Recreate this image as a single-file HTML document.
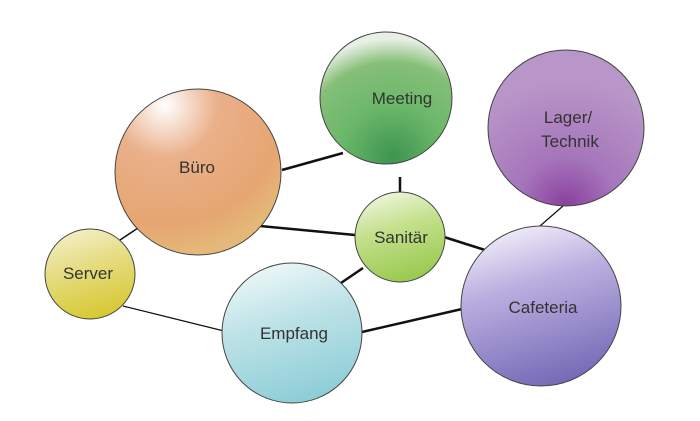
<!DOCTYPE html>
<html><head><meta charset="utf-8"><style>
html,body{margin:0;padding:0;background:#fff;}
svg{display:block;}
text{font-family:"Liberation Sans","DejaVu Sans",sans-serif;font-size:17px;fill:#333;text-anchor:middle;}
</style></head><body>
<svg width="700" height="421" viewBox="0 0 700 421">
<defs>
<radialGradient id="gb" cx="0.3" cy="0.1" r="0.9"><stop offset="0" stop-color="#fff"/><stop offset="0.35" stop-color="#eab08a"/><stop offset="0.8" stop-color="#e6a672"/><stop offset="1" stop-color="#e4b878"/></radialGradient>
<radialGradient id="gm" cx="0.55" cy="0.95" r="0.9"><stop offset="0" stop-color="#3d9450"/><stop offset="0.45" stop-color="#6cb86a"/><stop offset="0.8" stop-color="#86bf78"/><stop offset="1" stop-color="#e8efe4"/></radialGradient>
<radialGradient id="gl" cx="0.5" cy="1" r="0.8"><stop offset="0" stop-color="#8a3f9e"/><stop offset="0.4" stop-color="#a676bb"/><stop offset="1" stop-color="#b896c8"/></radialGradient>
<linearGradient id="gs" x1="0.3" y1="0" x2="0.6" y2="1"><stop offset="0" stop-color="#eef6dc"/><stop offset="0.4" stop-color="#c4e08c"/><stop offset="1" stop-color="#98c94e"/></linearGradient>
<linearGradient id="gv" x1="0.3" y1="0" x2="0.6" y2="1"><stop offset="0" stop-color="#f3efc8"/><stop offset="0.4" stop-color="#e6dd84"/><stop offset="1" stop-color="#d6c830"/></linearGradient>
<linearGradient id="ge" x1="0.3" y1="0" x2="0.6" y2="1"><stop offset="0" stop-color="#eef8f8"/><stop offset="0.4" stop-color="#bfe3e8"/><stop offset="1" stop-color="#8ccdd6"/></linearGradient>
<linearGradient id="gc" x1="0.3" y1="0" x2="0.6" y2="1"><stop offset="0" stop-color="#f2eefa"/><stop offset="0.35" stop-color="#bcb0e0"/><stop offset="1" stop-color="#7469b6"/></linearGradient>
</defs>
<g stroke="#111" fill="none">
<line x1="282" y1="170" x2="343" y2="153" stroke-width="2.5"/>
<line x1="400" y1="177" x2="400" y2="192" stroke-width="2.5"/>
<line x1="260" y1="226" x2="355" y2="235" stroke-width="2.5"/>
<line x1="363" y1="268" x2="338" y2="285" stroke-width="2.5"/>
<line x1="444" y1="237" x2="485" y2="250" stroke-width="2.5"/>
<line x1="563" y1="206" x2="540" y2="226" stroke-width="1.2"/>
<line x1="120" y1="240" x2="138" y2="228" stroke-width="1.5"/>
<line x1="123" y1="306" x2="224" y2="331" stroke-width="1.2"/>
<line x1="362" y1="332" x2="462" y2="309" stroke-width="2.5"/>
</g>
<g stroke="#444" stroke-width="1">
<circle cx="198" cy="172" r="83" fill="url(#gb)"/>
<circle cx="386" cy="98" r="66" fill="url(#gm)"/>
<circle cx="566" cy="128" r="78" fill="url(#gl)"/>
<circle cx="400" cy="237" r="45" fill="url(#gs)"/>
<circle cx="90" cy="274" r="45" fill="url(#gv)"/>
<circle cx="292" cy="333" r="70" fill="url(#ge)"/>
<circle cx="541" cy="306" r="80" fill="url(#gc)"/>
</g>
<text x="197" y="173">Büro</text>
<text x="402" y="104">Meeting</text>
<text x="568" y="123">Lager/</text>
<text x="570" y="147">Technik</text>
<text x="401" y="243">Sanitär</text>
<text x="88" y="279">Server</text>
<text x="294" y="339">Empfang</text>
<text x="543" y="313">Cafeteria</text>
</svg>
</body></html>
